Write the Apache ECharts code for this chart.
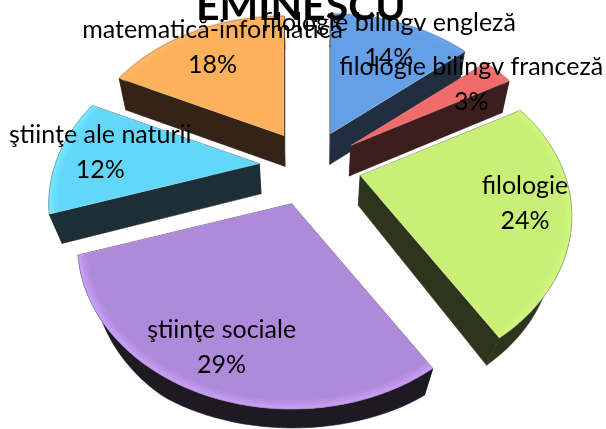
<!DOCTYPE html>
<html>
<head>
<meta charset="utf-8">
<style>
html,body{margin:0;padding:0;background:#fff;}
#main{width:606px;height:429px;}
</style>
<script src="https://cdn.jsdelivr.net/npm/echarts@6/dist/echarts.min.js"></script>
</head>
<body>
<div id="main"></div>
<script>
// valorile din grafic
var categories = ['filologie','ştiinţe sociale','ştiinţe ale naturii','matematică-informatică','filologie bilingv engleză','filologie bilingv franceză'];
var values = [24,29,12,18,14,3];
var topColors = ['#c9ef76','#b08ada','#62d7fa','#fdb15a','#659fe6','#f26b6b'];
var rimColors = ['#d4fa80','#cfa6ff','#7cecff','#fdb96a','#6ca8f0','#f67878'];
var sideColors = ['#2f341c','#1e1a24','#1c2f36','#342316','#202e40','#3c1e1e'];
var labelShift = [[31,2],[-17,35],[-28,-5],[-9,-15],[9,-16],[20,-11]];

// proiectia in perspectiva a planului discului
var cx = 310, cy = 166, ax = 204, ay = 151, persp = 0.25;
var explode = 0.25, startAngle = -28.8;
var total = values.reduce(function(a,b){return a+b;},0);

// near = cat de aproape de privitor sta felia dupa explodare
function project(x,y,near){
    var w = 1 - persp*(y + (near||0));
    return [ax*x/w, ay*y/w];
}
function polar(deg,r){
    var a = deg*Math.PI/180;
    return [r*Math.cos(a), r*Math.sin(a)];
}
// punct de pe fata de jos: spre fata graficului baza se strange mai tare
function lower(p){
    var t = Math.max(0,Math.min(1,(p[1]-170)/100));
    var scale = 0.965 - 0.033*t;
    var depth = Math.min(33 - 0.017*p[1], 26.7 - (p[1]-370)*0.2);
    return [cx + (p[0]-cx)*scale, p[1] + depth];
}

var slices = [];
var acc = startAngle;
values.forEach(function(v,i){
    var sweep = v/total*360;
    var mid = acc + sweep/2;
    var d = polar(mid,explode);
    var o = project(d[0],d[1]);
    var apex = [cx+o[0], cy+o[1]];
    var near = d[1]*0.25;
    var arc = [];
    for(var k=0;k<=48;k++){
        var q = polar(acc + sweep*k/48,1);
        var s = project(q[0],q[1],near);
        arc.push([apex[0]+s[0], apex[1]+s[1]]);
    }
    var lp = polar(mid,0.65), ls = project(lp[0],lp[1]);
    slices.push({i:i,apex:apex,arc:arc,label:[apex[0]+ls[0]+labelShift[i][0], apex[1]+ls[1]+labelShift[i][1]]});
    acc += sweep;
});
// se deseneaza de la spate spre fata
var drawOrder = slices.map(function(s){return s.i;}).sort(function(a,b){return slices[a].apex[1]-slices[b].apex[1];});

function wall(points,color){
    return {type:'polygon',shape:{points:points},style:{fill:color,stroke:color,lineWidth:0.5}};
}

function renderSlice(params,api){
    var s = slices[api.value(0)];
    var i = s.i;
    var first = s.arc[0], last = s.arc[s.arc.length-1];
    var lowArc = s.arc.map(lower).reverse();
    var children = [
        wall([s.apex,first,lower(first),lower(s.apex)],sideColors[i]),
        wall([s.apex,last,lower(last),lower(s.apex)],sideColors[i]),
        wall(s.arc.concat(lowArc),sideColors[i]),
        {type:'polygon',shape:{points:[s.apex].concat(s.arc)},style:{fill:topColors[i],stroke:'rgba(255,255,255,0.4)',lineWidth:0.5}}
    ];
    // marginea luminoasa, estompata spre interior
    [[0.02,9,0.18],[0.014,6,0.3],[0.008,3,0.5]].forEach(function(r){
        var inner = s.arc.map(function(p){
            return [p[0]+(s.apex[0]-p[0])*r[0], p[1]+(s.apex[1]-p[1])*r[0]];
        });
        children.push({type:'polyline',shape:{points:inner},style:{fill:'none',stroke:rimColors[i],lineWidth:r[1],opacity:r[2]}});
    });
    children.push({type:'polyline',shape:{points:s.arc},style:{fill:'none',stroke:'#555',lineWidth:0.7,opacity:0.35}});
    return {type:'group',children:children};
}

var myChart = echarts.init(document.getElementById('main'),null,{renderer:'canvas'});
myChart.setOption({
    animation:false,
    backgroundColor:'#fff',
    title:{
        text:'EMINESCU',
        left:191,
        top:-19,
        textStyle:{fontFamily:'Lato',fontWeight:'bold',fontSize:41,color:'#000'}
    },
    series:[
        {
            type:'custom',
            coordinateSystem:'none',
            silent:true,
            z:2,
            data:drawOrder.map(function(i){return [i];}),
            renderItem:renderSlice
        },
        {
            type:'custom',
            coordinateSystem:'none',
            silent:true,
            z:3,
            data:slices.map(function(s){return [s.i];}),
            renderItem:function(params,api){
                var s = slices[api.value(0)];
                return {type:'text',x:s.label[0],y:s.label[1],style:{
                    text:categories[s.i]+'\n'+Math.round(values[s.i]/total*100)+'%',
                    align:'center',verticalAlign:'middle',
                    fontFamily:'Lato',fontSize:25,lineHeight:35,fill:'#000'
                }};
            }
        }
    ]
});
</script>
</body>
</html>
